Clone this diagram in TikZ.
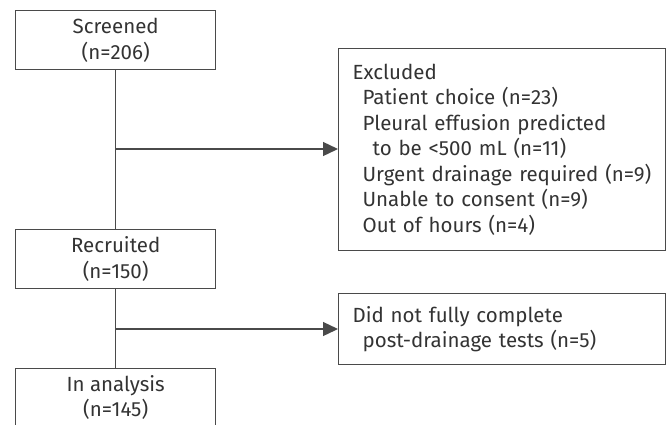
\documentclass[tikz,border=0pt]{standalone}
\usepackage{fontspec}
\setmainfont{Fira Sans}
\usetikzlibrary{arrows.meta}
\definecolor{linec}{HTML}{4A4A4A}
\definecolor{textc}{HTML}{333333}
\tikzset{
  box/.style={draw=linec, line width=1.3pt, anchor=north west, inner sep=0pt,
    text=textc, font=\fontsize{20.5}{25.5}\selectfont},
  cbox/.style={box, minimum width=200pt, align=center},
  lbox/.style={box, minimum width=327pt, text width=299pt, align=left},
  conn/.style={draw=linec, line width=1.3pt},
  arr/.style={conn, -{Triangle[length=15pt,width=14pt]}}
}
\newcommand{\ind}[1]{\hspace*{#1pt}}
\begin{document}
\begin{tikzpicture}[x=1pt,y=-1pt]
\useasboundingbox (0,0) rectangle (669,424);
\clip (0,0) rectangle (669,424);
\node[cbox, minimum height=59pt] (scr) at (15,10) {Screened\\(n=206)};
\node[cbox, minimum height=59pt] (rec) at (15,229) {Recruited\\(n=150)};
\node[cbox, minimum height=58pt] (ana) at (15,368) {In analysis\\(n=145)};
\node[lbox, minimum height=202pt] (exc) at (338,48) {Excluded\\
\ind{10}Patient choice (n=23)\\
\ind{10}Pleural effusion predicted\\
\ind{20}to be <500 mL (n=11)\\
\ind{10}Urgent drainage required (n=9)\\
\ind{10}Unable to consent (n=9)\\
\ind{10}Out of hours (n=4)};
\node[lbox, minimum height=71pt] (dnf) at (338,293) {Did not fully complete\\
\ind{10}post-drainage tests (n=5)};
\coordinate (j1) at (115,149);
\coordinate (j2) at (115,329);
\draw[conn] (scr.south) -- (rec.north);
\draw[conn] (rec.south) -- (ana.north);
\draw[arr] (j1) -- (exc.west |- j1);
\draw[arr] (j2) -- (dnf.west |- j2);
\end{tikzpicture}
\end{document}
